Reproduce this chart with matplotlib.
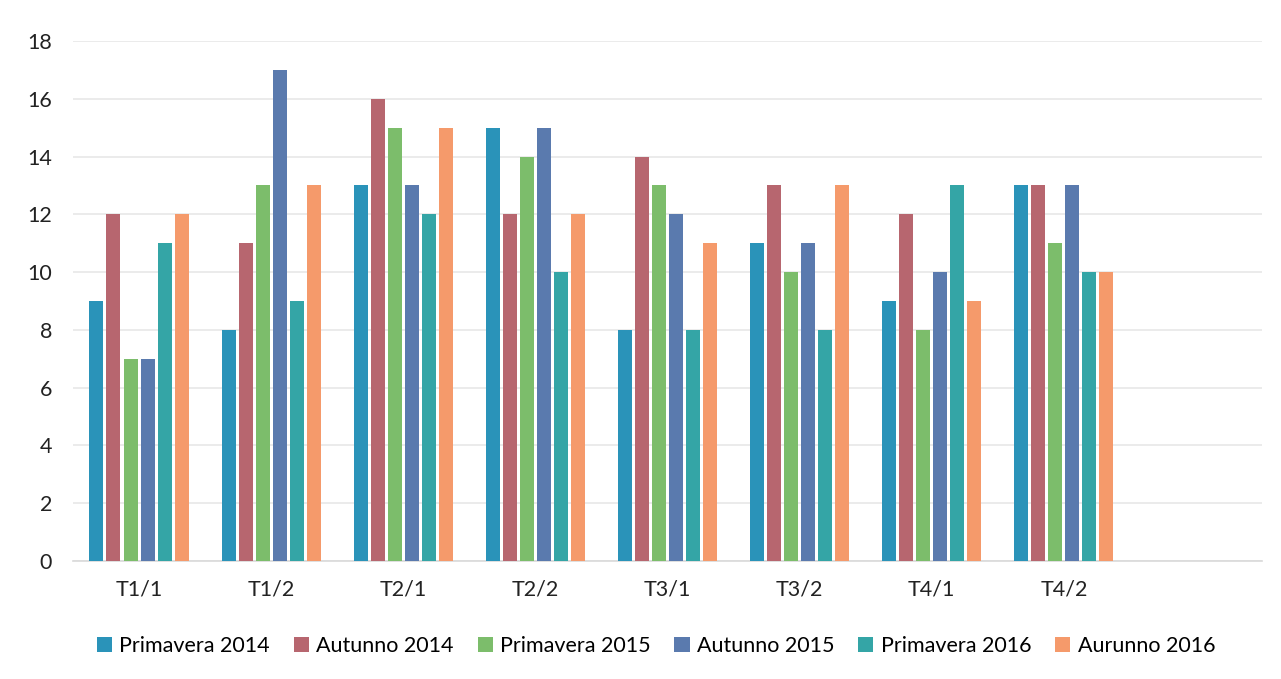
import numpy as np
import matplotlib.pyplot as plt

plt.rcParams['font.family'] = ['Lato', 'DejaVu Sans']

categories = ['T1/1', 'T1/2', 'T2/1', 'T2/2', 'T3/1', 'T3/2', 'T4/1', 'T4/2']
series_names = ['Primavera 2014', 'Autunno 2014', 'Primavera 2015',
                'Autunno 2015', 'Primavera 2016', 'Aurunno 2016']
primavera_2014 = [9, 8, 13, 15, 8, 11, 9, 13]
autunno_2014 = [12, 11, 16, 12, 14, 13, 12, 13]
primavera_2015 = [7, 13, 15, 14, 13, 10, 8, 11]
autunno_2015 = [7, 17, 13, 15, 12, 11, 10, 13]
primavera_2016 = [11, 9, 12, 10, 8, 8, 13, 10]
aurunno_2016 = [12, 13, 15, 12, 11, 13, 9, 10]
yticks = [0, 2, 4, 6, 8, 10, 12, 14, 16, 18]

series = [primavera_2014, autunno_2014, primavera_2015,
          autunno_2015, primavera_2016, aurunno_2016]
colors = ['#2a93b9', '#b7666f', '#7cbd6b', '#5a7aae', '#34a5a6', '#f59a6b']

fig = plt.figure(figsize=(12.81, 6.79), dpi=100)
ax = fig.add_axes([73 / 1281, 118 / 679, (1262 - 73) / 1281, (561 - 41) / 679])

x = np.arange(len(categories))
slot = 0.129
bw = 0.106
for i, (name, vals, c) in enumerate(zip(series_names, series, colors)):
    offset = (i - 2.5) * slot
    ax.bar(x + offset, vals, width=bw, color=c, label=name, zorder=3)

# one empty slot on the right, as in the original layout
ax.set_xlim(-0.5, 8.5)
ax.set_ylim(0, 18)
ax.set_xticks(x)
ax.set_xticklabels(categories)
ax.set_yticks(yticks)
ax.tick_params(axis='both', length=0, labelsize=15.5, colors='#222222')
ax.tick_params(axis='y', pad=15)
ax.tick_params(axis='x', pad=13)
ax.grid(axis='y', color='#e8e8e8', linewidth=1.2, zorder=0)
for s in ['top', 'right', 'left']:
    ax.spines[s].set_visible(False)
ax.spines['bottom'].set_color('#d9d9d9')
ax.spines['bottom'].set_linewidth(1.2)

fig.legend(loc='center', bbox_to_anchor=(656 / 1281, 1 - 646 / 679), ncol=6,
           frameon=False, fontsize=15.5, handlelength=0.7, handleheight=0.7,
           handletextpad=0.35, columnspacing=1.1)

fig.savefig('out.png', dpi=100)
